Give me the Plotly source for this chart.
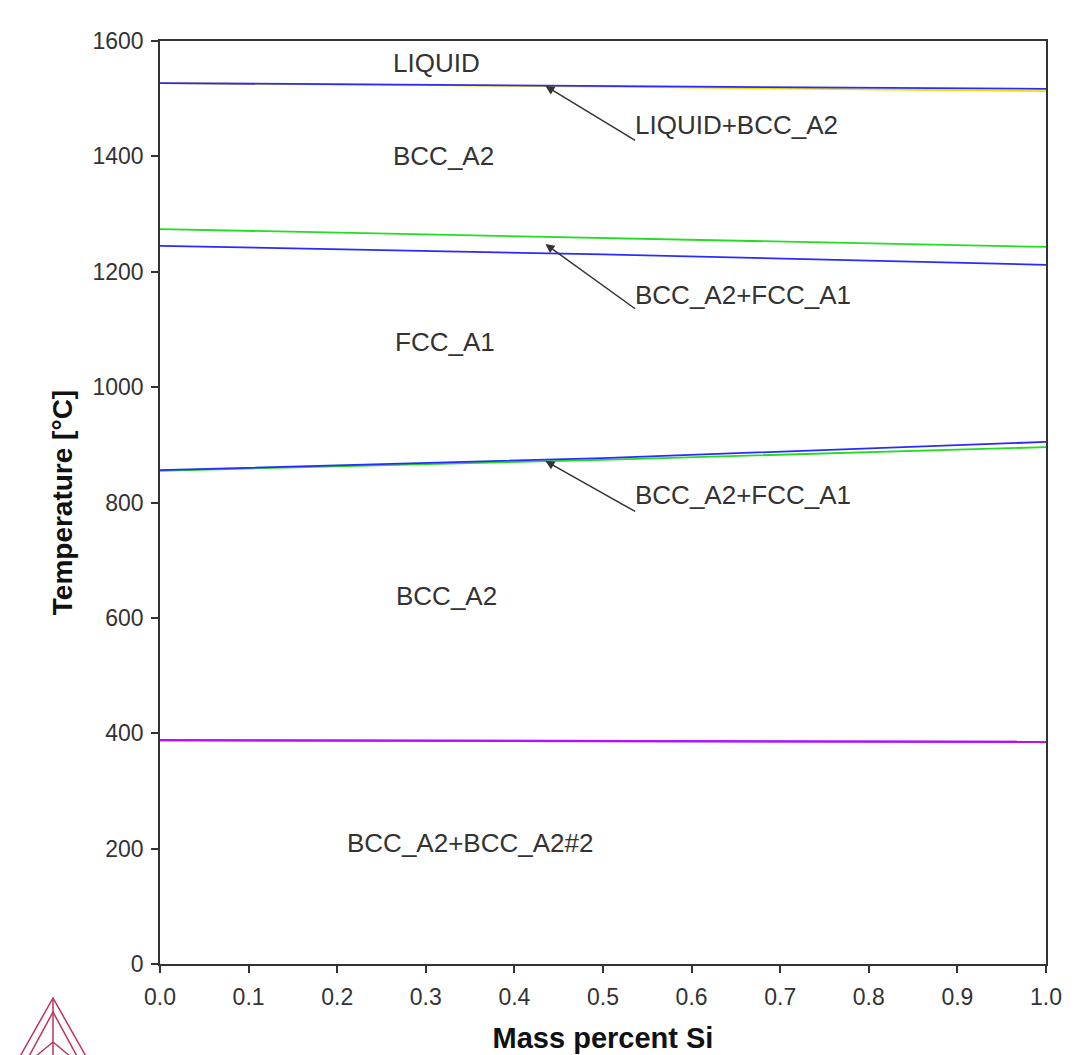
import plotly.graph_objects as go

# ---- data ----
x_si = [0.0, 0.5, 1.0]

liquidus_yellow = [1527, 1521, 1513]
liquidus_blue = [1527, 1522, 1517]
a4_green = [1274, 1259, 1243]
a4_blue = [1245, 1230, 1212]
a3_green = [855, 874, 896]
a3_blue = [856, 877, 905]
mag_magenta = [388, 386, 385]
mag_blue = [388, 386.5, 385]

region_labels = ["LIQUID", "BCC_A2", "FCC_A1", "BCC_A2", "BCC_A2+BCC_A2#2"]
region_x = [0.312, 0.32, 0.322, 0.323, 0.35]
region_t = [1562, 1400, 1078, 638, 210]

arrow_labels = ["LIQUID+BCC_A2", "BCC_A2+FCC_A1", "BCC_A2+FCC_A1"]
arrow_head_x = [0.435, 0.435, 0.435]
arrow_head_t = [1522, 1248, 872]
arrow_tail_x = [0.538, 0.538, 0.538]
arrow_tail_t = [1426, 1134, 783]
arrow_text_t = [1454, 1160, 813]

x_ticks = [0.0, 0.1, 0.2, 0.3, 0.4, 0.5, 0.6, 0.7, 0.8, 0.9, 1.0]
x_ticklabels = ["0.0", "0.1", "0.2", "0.3", "0.4", "0.5", "0.6", "0.7", "0.8", "0.9", "1.0"]
y_ticks = [0, 200, 400, 600, 800, 1000, 1200, 1400, 1600]

FONT = "Liberation Sans, Arial, sans-serif"
LBL = 26

fig = go.Figure()

def add_line(y, color, width=1.8, opacity=1.0):
    fig.add_trace(go.Scatter(x=x_si, y=y, mode="lines",
                             line=dict(color=color, width=width),
                             opacity=opacity, showlegend=False, hoverinfo="skip"))

add_line(liquidus_yellow, "#f0e000")
add_line(liquidus_blue, "#2a2aff")
add_line(a4_green, "#22dd22")
add_line(a4_blue, "#2a2aff")
add_line(a3_green, "#22dd22")
add_line(a3_blue, "#2a2aff")
add_line(mag_blue, "#6020ff", width=2.2)
add_line(mag_magenta, "#ff00ff", width=2.2, opacity=0.55)

annotations = []
for lab, xx, tt in zip(region_labels, region_x, region_t):
    annotations.append(dict(x=xx, y=tt, xref="x", yref="y", text=lab, showarrow=False,
                            font=dict(family=FONT, size=LBL, color="#333333"),
                            xanchor="center", yanchor="middle"))

for lab, hx, ht, tx, tt, yt in zip(arrow_labels, arrow_head_x, arrow_head_t,
                                   arrow_tail_x, arrow_tail_t, arrow_text_t):
    annotations.append(dict(x=hx, y=ht, ax=tx, ay=tt, xref="x", yref="y",
                            axref="x", ayref="y", text="", showarrow=True,
                            arrowhead=2, arrowsize=1.2, arrowwidth=1.5,
                            arrowcolor="#333333"))
    annotations.append(dict(x=tx, y=yt, xref="x", yref="y", text=lab, showarrow=False,
                            font=dict(family=FONT, size=LBL, color="#333333"),
                            xanchor="left", yanchor="middle", xshift=-4))

fig.update_layout(
    width=1088, height=1055,
    margin=dict(l=152, r=50, t=33, b=99),
    paper_bgcolor="white", plot_bgcolor="white",
    annotations=annotations,
    font=dict(family=FONT, color="#333333"),
    xaxis=dict(range=[0, 1], tickvals=x_ticks, ticktext=x_ticklabels,
               ticks="outside", ticklen=7, tickcolor="#333333", tickwidth=1.5,
               ticklabelstandoff=5,
               showline=True, linecolor="#333333", linewidth=1.5, mirror=True,
               showgrid=False, zeroline=False,
               tickfont=dict(family=FONT, size=23, color="#333333"),
               title=dict(text="<b>Mass percent Si</b>", standoff=18,
                          font=dict(family=FONT, size=29, color="#111111"))),
    yaxis=dict(range=[0, 1600], tickvals=y_ticks,
               ticks="outside", ticklen=7, tickcolor="#333333", tickwidth=1.5,
               ticklabelstandoff=3,
               showline=True, linecolor="#333333", linewidth=1.5, mirror=True,
               showgrid=False, zeroline=False,
               tickfont=dict(family=FONT, size=23, color="#333333"),
               title=dict(text="<b>Temperature [°C]</b>", standoff=12,
                          font=dict(family=FONT, size=28, color="#111111"))),
)

# decorative logo (bottom-left), in paper coordinates (reference pixel positions)
def px(x):
    return (x - 160) / 886

def py(y):
    return (964 - y) / 923

logo_col = "#c0305a"
logo_paths = [
    [(53, 998), (18, 1060), (88, 1060)],
    [(53, 1012), (27, 1060), (79, 1060)],
]
for pts in logo_paths:
    p = "M " + " L ".join(f"{px(a)},{py(b)}" for a, b in pts) + " Z"
    fig.add_shape(type="path", path=p, xref="paper", yref="paper",
                  line=dict(color=logo_col, width=1.5))
for (a1, b1), (a2, b2) in [((53, 1000), (53, 1060)), ((53, 1042), (35, 1057)),
                           ((53, 1042), (71, 1057))]:
    fig.add_shape(type="line", x0=px(a1), y0=py(b1), x1=px(a2), y1=py(b2),
                  xref="paper", yref="paper", line=dict(color=logo_col, width=1.5))

fig.write_html("out.html")
